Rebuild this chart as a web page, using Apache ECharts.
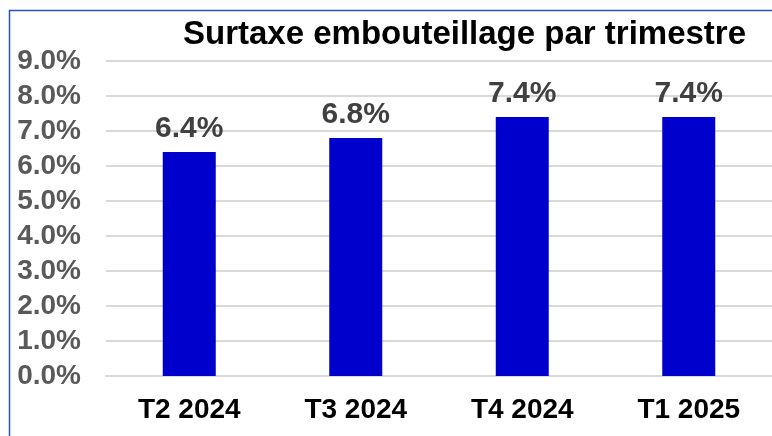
<!DOCTYPE html>
<html>
<head>
<meta charset="utf-8">
<script src="https://cdn.jsdelivr.net/npm/echarts@6/dist/echarts.min.js"></script>
<style>
  html, body { margin: 0; padding: 0; background: #fff; }
  #chart { width: 772px; height: 436px; }
</style>
</head>
<body>
<div id="chart"></div>
<script>
  const categories = ['T2 2024', 'T3 2024', 'T4 2024', 'T1 2025'];
  const values = [6.4, 6.8, 7.4, 7.4];
  const yMax = 9;

  const chart = echarts.init(document.getElementById('chart'));
  const option = {
    animation: false,
    title: {
      text: 'Surtaxe embouteillage par trimestre',
      left: 178,
      top: 13,
      textStyle: {
        fontFamily: 'Liberation Sans, Arial, sans-serif',
        fontSize: 33,
        fontWeight: 'bold',
        color: '#000'
      }
    },
    graphic: [{
      type: 'rect',
      shape: { x: 9.5, y: 10.5, width: 800, height: 500 },
      style: { fill: 'none', stroke: '#2a52be', lineWidth: 1.5 },
      z: 100
    }],
    grid: {
      left: 106,
      right: 0,
      top: 61,
      bottom: 60
    },
    xAxis: {
      type: 'category',
      data: categories,
      axisLine: { lineStyle: { color: '#d9d9d9', width: 2 } },
      axisTick: { show: false },
      axisLabel: {
        margin: 20,
        fontFamily: 'Liberation Sans, Arial, sans-serif',
        fontSize: 28,
        fontWeight: 'bold',
        color: '#000'
      }
    },
    yAxis: {
      type: 'value',
      min: 0,
      max: yMax,
      interval: 1,
      axisLine: { show: false },
      axisTick: { show: false },
      splitLine: { lineStyle: { color: '#d9d9d9', width: 2 } },
      axisLabel: {
        margin: 25,
        formatter: v => v.toFixed(1) + '%',
        fontFamily: 'Liberation Sans, Arial, sans-serif',
        fontSize: 28,
        fontWeight: 'bold',
        color: '#595959'
      }
    },
    series: [{
      type: 'bar',
      data: values,
      barWidth: 53,
      itemStyle: { color: '#0000cc' },
      label: {
        show: true,
        position: 'top',
        distance: 8,
        formatter: p => p.value.toFixed(1) + '%',
        fontFamily: 'Liberation Sans, Arial, sans-serif',
        fontSize: 30,
        fontWeight: 'bold',
        color: '#404040'
      }
    }]
  };
  chart.setOption(option);
</script>
</body>
</html>
